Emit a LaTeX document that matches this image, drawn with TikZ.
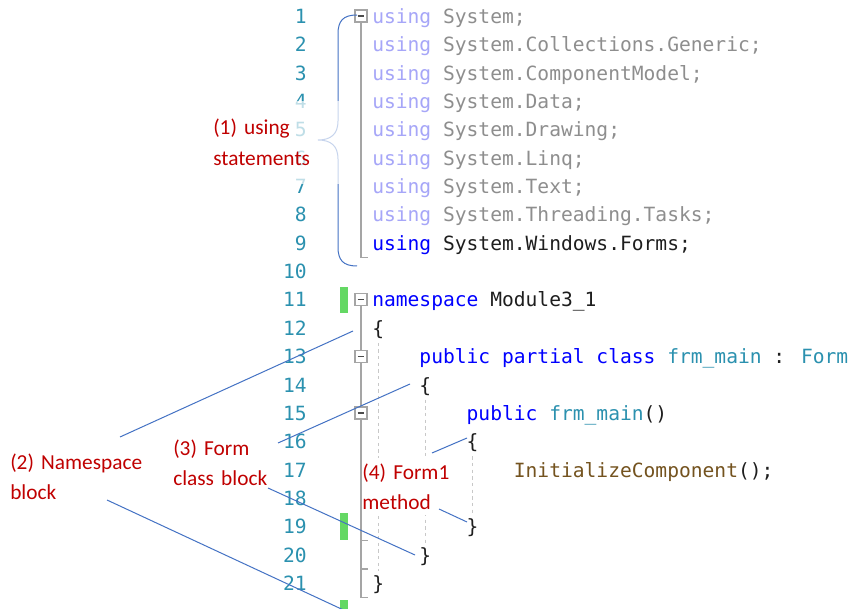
\documentclass[tikz,border=0pt]{standalone}
\usepackage{fontspec}
\setmainfont{Carlito}
\newfontfamily\codefont{DejaVu Sans Mono}
\usepackage{tikz}
\usetikzlibrary{calc,positioning}
\definecolor{lnumcol}{HTML}{2B91AF}
\definecolor{kwcol}{HTML}{0000FF}
\definecolor{kwfade}{HTML}{A6A6F8}
\definecolor{idfade}{HTML}{8E8E8E}
\definecolor{txtcol}{HTML}{1E1E1E}
\definecolor{typecol}{HTML}{2B91AF}
\definecolor{methcol}{HTML}{74531F}
\definecolor{notecol}{HTML}{C00000}
\definecolor{linecol}{HTML}{4472C4}
\definecolor{foldcol}{HTML}{A5A5A5}
\definecolor{guidecol}{HTML}{C8C8C8}
\definecolor{changecol}{HTML}{64D864}
\tikzstyle{lnum} = [anchor=base east, inner sep=0pt, text=lnumcol, font=\codefont\fontsize{14.7}{17}\selectfont]
\tikzstyle{code} = [anchor=base west, inner sep=0pt, text=txtcol, font=\codefont\fontsize{14.7}{17}\selectfont]
\tikzstyle{note} = [anchor=base west, inner sep=0pt, text=notecol, font=\fontsize{16}{23}\selectfont, align=left]
\tikzstyle{pointer} = [draw=linecol, line width=0.75pt]
\tikzstyle{fold} = [draw=foldcol, line width=1pt]
\tikzstyle{guide} = [draw=guidecol, line width=0.75pt, dash pattern=on 2.5pt off 2.5pt, shorten <=3pt, shorten >=3pt]
\newcommand{\kwd}[1]{\textcolor{kwcol}{#1}}
\newcommand{\tyn}[1]{\textcolor{typecol}{#1}}

\begin{document}
\begin{tikzpicture}[x=0.75pt, y=-0.75pt]
\tikzset{%
	foldbox/.style = {rectangle, draw=foldcol, fill=white, line width=0.9pt, minimum size=9pt, inner sep=0pt,
		path picture={\draw[black!70, line width=0.9pt] ([xshift=2pt]path picture bounding box.west) -- ([xshift=-2pt]path picture bounding box.east);}},
	changed/.style = {fill=changecol}
}
\path[use as bounding box, fill=white] (0,0) rectangle (849,609);

\coordinate (fx) at (361,0);
\coordinate (i0) at (372,0);
\coordinate (i1) at (419.2,0);
\coordinate (i2) at (466.4,0);
\coordinate (i3) at (513.6,0);

\foreach \i in {1,...,21}
	\node(n\i) [lnum] at (307,{23.5+(\i-1)*28.35}) {\i};

\foreach \i/\ns in {1/System, 2/System.Collections.Generic, 3/System.ComponentModel, 4/System.Data,
		5/System.Drawing, 6/System.Linq, 7/System.Text, 8/System.Threading.Tasks}
	\node(c\i) [code] at (i0 |- n\i.base) {\textcolor{kwfade}{using} \textcolor{idfade}{\ns;}};
\node(c9) [code] at (i0 |- n9.base) {\kwd{using} System.Windows.Forms;};
\node(c11) [code] at (i0 |- n11.base) {\kwd{namespace} Module3\_1};
\node(c12) [code] at (i0 |- n12.base) {\{};
\node(c13) [code] at (i1 |- n13.base) {\kwd{public partial class} \tyn{frm\_main} : \tyn{Form}};
\node(c14) [code] at (i1 |- n14.base) {\{};
\node(c15) [code] at (i2 |- n15.base) {\kwd{public} \tyn{frm\_main}()};
\node(c16) [code] at (i2 |- n16.base) {\{};
\node(c17) [code] at (i3 |- n17.base) {\textcolor{methcol}{InitializeComponent}();};
\node(c19) [code] at (i2 |- n19.base) {\}};
\node(c20) [code] at (i1 |- n20.base) {\}};
\node(c21) [code] at (i0 |- n21.base) {\}};

\draw[guide] (c12.south) -- (c21.north);
\draw[guide] (c14.south) -- (c20.north);
\draw[guide] (c16.south) -- (c19.north);

\foreach \i in {1,11,13,15}
	\coordinate (f\i) at ($(fx |- n\i.base)+(0,-7.5)$);
\draw[fold] (f1) |- ($(fx |- n9.base)+(7,7)$);
\draw[fold] (f11) |- ($(fx |- n21.base)+(7,7)$);
\draw[fold] ($(fx |- n19.base)+(0,7)$) -- ++(7,0);
\draw[fold] ($(fx |- n20.base)+(0,7)$) -- ++(7,0);
\foreach \i in {1,11,13,15}
	\node(fb\i) [foldbox] at (f\i) {};

\fill[changed] (340,287) rectangle (348,313);
\fill[changed] (340,513) rectangle (348,540);
\fill[changed] (340,600) rectangle (348,620);

\draw[pointer] (357,15) .. controls (343,15) and (338,21) .. (338,34) -- (338,121)
	.. controls (338,134) and (331,140) .. (318,140) .. controls (331,140) and (338,146) .. (338,159)
	-- (338,247) .. controls (338,260) and (343,266) .. (357,266);

\node(ul) [note, fill=white, fill opacity=0.7, text opacity=1, inner xsep=4.5pt, inner ysep=14pt, text width=98pt] at (207,135) {(1) using\\statements};
\node(ns) [note, text width=110pt] at (10,469) {(2) Namespace\\block};
\node(cb) [note, text width=80pt] at (173,455) {(3) Form\\class block};
\node(fm) [note, fill=white, inner xsep=0.5pt, inner ysep=4pt, text width=68pt] at (361.5,479) {(4) Form1\\method};

\coordinate (nsa) at (120,437);
\coordinate (nsb) at (353,331);
\coordinate (nsc) at (107,500);
\coordinate (nsd) at (350,613);
\coordinate (cba) at (278,443);
\coordinate (cbb) at (410,384);
\coordinate (cbc) at (268,488);
\coordinate (cbd) at (415,555);
\coordinate (fma) at (432,453);
\coordinate (fmb) at (467,438);
\coordinate (fmc) at (439,509);
\coordinate (fmd) at (467,522);
\draw[pointer] (nsa) -- (nsb);
\draw[pointer] (nsc) -- (nsd);
\draw[pointer] (cba) -- (cbb);
\draw[pointer] (cbc) -- (cbd);
\draw[pointer] (fma) -- (fmb);
\draw[pointer] (fmc) -- (fmd);
\end{tikzpicture}
\end{document}
